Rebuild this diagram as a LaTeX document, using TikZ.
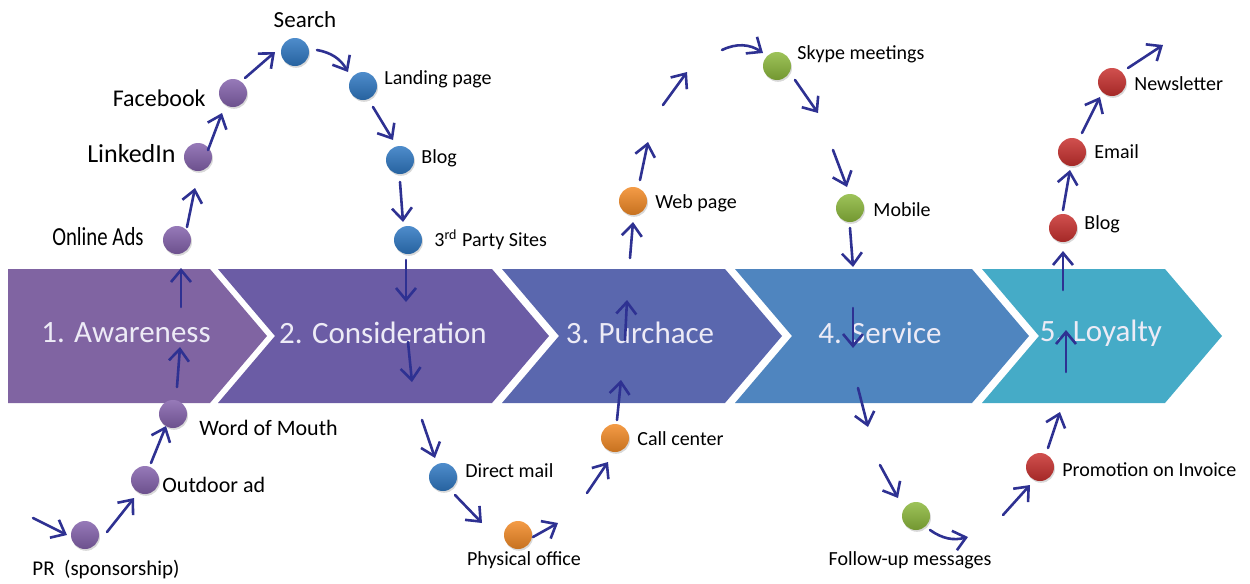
\documentclass[tikz,border=0pt]{standalone}
\usepackage{fontspec}
\setmainfont{Carlito}
\newfontfamily\narrowfont[FakeStretch=0.8]{Carlito}
\usepackage{tikz}
\usetikzlibrary{arrows.meta}
\usetikzlibrary{shadows}
\tikzset{>={Straight Barb[length=6pt,width=10pt]}}
\definecolor{navy}{HTML}{2E3192}
\definecolor{stepA}{HTML}{8064A2}
\definecolor{stepB}{HTML}{6B5CA5}
\definecolor{stepC}{HTML}{5A67AE}
\definecolor{stepD}{HTML}{4F85BF}
\definecolor{stepE}{HTML}{45ABC7}
\definecolor{stagefont}{HTML}{EDEBF6}
\definecolor{dpurple}{HTML}{8462AC}
\definecolor{dblue}{HTML}{2F78C2}
\definecolor{dorange}{HTML}{F28A26}
\definecolor{dgreen}{HTML}{8CB83C}
\definecolor{dred}{HTML}{C8312F}
\tikzset{
  spot/.style={circle, minimum size=14pt, inner sep=0pt,
    top color=#1!85!white, bottom color=#1!82!black,
    drop shadow={shadow xshift=0.5pt, shadow yshift=-0.9pt, opacity=0.3}},
  lbl/.style={font=\fontsize{10}{12}\selectfont, inner sep=0pt,
    text height=1.5ex, text depth=0.3ex},
  biglbl/.style={lbl, font=\fontsize{12}{14}\selectfont},
  stagetxt/.style={text=stagefont, font=\fontsize{15.5}{18}\selectfont},
  trail/.style={->, draw=navy, line width=1.3pt, line cap=round}
}

\begin{document}
\begin{tikzpicture}[x=0.5pt, y=-0.5pt]
\newcommand\D{57}
\newcommand\T{269}
\newcommand\B{403}
\newcommand\M{336}
\useasboundingbox (0,0) rectangle (1250,584);

% stages
\fill[stepA] (8,\T) -- (210,\T) -- (210+\D,\M) -- (210,\B) -- (8,\B) -- cycle;
\foreach \l/\r/\c in {218/492/stepB, 502/725/stepC, 735/972/stepD, 982/1165/stepE}
  \fill[\c] (\l,\T) -- (\r,\T) -- (\r+\D,\M) -- (\r,\B) -- (\l,\B) -- (\l+\D,\M) -- cycle;

\node[stagetxt] (st1) at (126,333) {1. Awareness};
\node[stagetxt] (st2) at (383,333) {2. Consideration};
\node[stagetxt] (st3) at (640,333) {3. Purchace};
\node[stagetxt] (st4) at (880,333) {4. Service};
\node[stagetxt] (st5) at (1101,333) {5. Loyalty};

% touch points
\node[spot=dpurple] (pr) at (85,535) {};
\node[spot=dpurple] (outdoor) at (145,480) {};
\node[spot=dpurple] (wom) at (173,414) {};
\node[spot=dpurple] (ads) at (177,240) {};
\node[spot=dpurple] (linkedin) at (198,157) {};
\node[spot=dpurple] (facebook) at (233,93) {};
\node[spot=dblue] (search) at (295,52) {};
\node[spot=dblue] (landing) at (363,86) {};
\node[spot=dblue] (blogb) at (400,160) {};
\node[spot=dblue] (party) at (408,240) {};
\node[spot=dblue] (mail) at (443,477) {};
\node[spot=dorange] (office) at (518,535) {};
\node[spot=dorange] (call) at (615,438) {};
\node[spot=dorange] (web) at (633,201) {};
\node[spot=dgreen] (skype) at (777,66) {};
\node[spot=dgreen] (mobile) at (850,208) {};
\node[spot=dgreen] (follow) at (916,516) {};
\node[spot=dred] (promo) at (1040,467) {};
\node[spot=dred] (blogr) at (1063,228) {};
\node[spot=dred] (email) at (1072,152) {};
\node[spot=dred] (news) at (1112,82) {};

\node[lbl, font=\fontsize{10.5}{12}\selectfont] (pr-t) at (106,570) {PR\ \ (sponsorship)};
\node[lbl, font=\fontsize{11}{13}\selectfont, anchor=west] (outdoor-t) at (162,487) {Outdoor ad};
\node[lbl, font=\fontsize{11}{13}\selectfont, anchor=west] (wom-t) at (199,430) {Word of Mouth};
\node[lbl, font=\narrowfont\fontsize{13}{15}\selectfont, anchor=east] (ads-t) at (144,240) {Online Ads};
\node[biglbl, font=\fontsize{13}{15}\selectfont, anchor=east] (linkedin-t) at (176,157) {LinkedIn};
\node[biglbl, anchor=east] (facebook-t) at (206,101) {Facebook};
\node[biglbl, font=\fontsize{11.5}{14}\selectfont] (search-t) at (305,22) {Search};
\node[lbl, anchor=west] (landing-t) at (384,79) {Landing page};
\node[lbl, anchor=west] (blogb-t) at (421,158) {Blog};
\node[lbl, anchor=west] (party-t) at (434,241) {3\textsuperscript{rd} Party Sites};
\node[lbl, anchor=west] (mail-t) at (465,472) {Direct mail};
\node[lbl] (office-t) at (524,560) {Physical office};
\node[lbl, anchor=west] (call-t) at (637,440) {Call center};
\node[lbl, anchor=west] (web-t) at (655,203) {Web page};
\node[lbl, anchor=west] (skype-t) at (797,54) {Skype meetings};
\node[lbl, anchor=west] (mobile-t) at (873,211) {Mobile};
\node[lbl] (follow-t) at (910,560) {Follow-up messages};
\node[lbl, anchor=west] (promo-t) at (1062,471) {Promotion on Invoice};
\node[lbl, anchor=west] (blogr-t) at (1084,224) {Blog};
\node[lbl, anchor=west] (email-t) at (1094,153) {Email};
\node[lbl, anchor=west] (news-t) at (1134,85) {Newsletter};

% journey arrows
\foreach \i/\sx/\sy/\ex/\ey/\b in {
  1/33/518/67/535/0, 2/107/532/134/498/0, 3/151/463/166/426/0,
  4/177/387/180/347/0, 5/181/307/181/268/0, 6/187/227/195/188/0,
  7/208/150/222/113/0, 8/245/78/275/52/0, 9/317/50/348/72/25,
  10/373/107/393/140/0, 11/400/182/403/222/0, 12/406/260/406/302/0,
  13/408/342/412/382/0, 14/422/420/435/458/0, 15/455/495/482/523/0,
  16/533/537/558/523/0, 17/587/493/608/462/0, 18/617/420/621/380/0,
  19/625/340/627/300/0, 20/630/258/633/222/0, 21/640/180/648/142/0,
  22/663/105/687/72/0, 23/722/50/763/53/30, 24/795/80/818/113/0,
  25/833/150/847/187/0, 26/850/228/853/267/0, 27/853/308/853/348/0,
  28/858/388/868/427/0, 29/880/465/898/498/0, 30/930/530/968/537/-25,
  31/1003/515/1030/485/0, 32/1048/448/1060/412/0, 33/1066/372/1066/330/0,
  34/1063/290/1063/251/0, 35/1063/210/1070/170/0, 36/1082/133/1100/97/0,
  37/1128/68/1163/45/0}{
  \coordinate (s\i) at (\sx,\sy);
  \coordinate (e\i) at (\ex,\ey);
  \draw[trail] (s\i) to[bend left=\b] (e\i);
}
\end{tikzpicture}
\end{document}
